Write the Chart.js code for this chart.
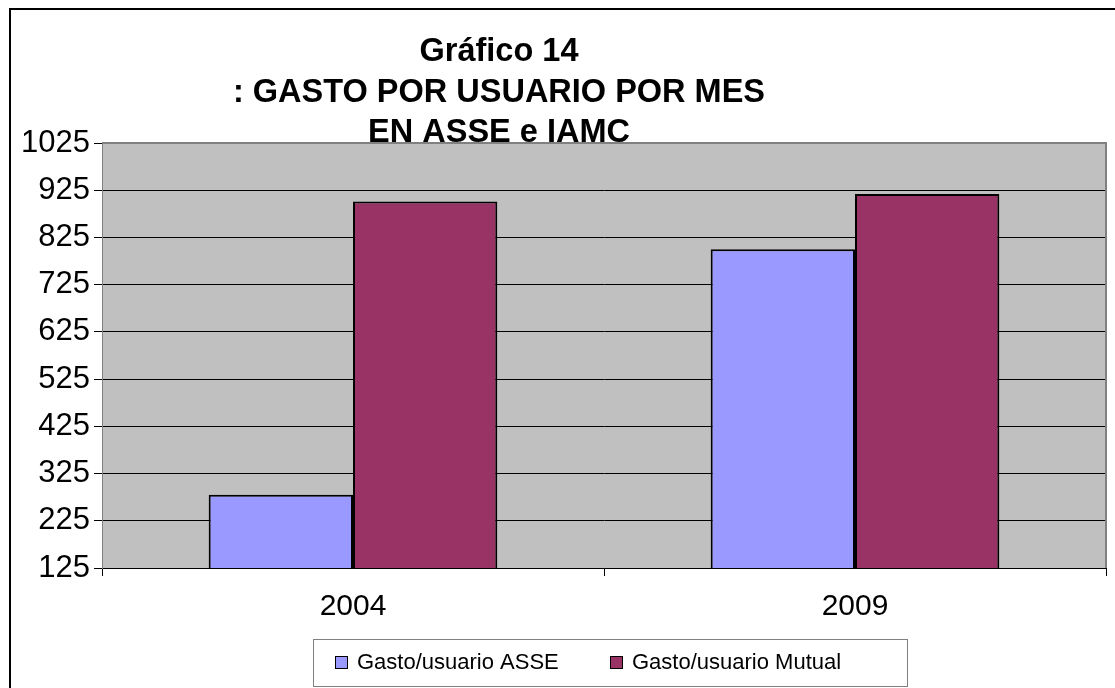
<!DOCTYPE html>
<html><head><meta charset="utf-8">
<script src="https://cdn.jsdelivr.net/npm/chart.js@4"></script>
<style>html,body{margin:0;padding:0;background:#fff}#wrap{width:1115px;height:688px;position:relative}</style>
</head><body><div id="wrap"><canvas id="c" width="1115" height="688"></canvas></div>
<script>
const categories = ['2004', '2009'];
const asseValues = [280, 800];
const mutualValues = [901, 917];
const seriesLabels = ['Gasto/usuario ASSE', 'Gasto/usuario Mutual'];
const seriesColors = ['#9999FF', '#993366'];
const yMin = 125, yMax = 1025, yStep = 100;
const titleLines = ['Gráfico 14', ': GASTO POR USUARIO POR MES', 'EN ASSE e IAMC'];

const FONT = 'Arial, "Liberation Sans", sans-serif';

const decor = {
  id: 'decor',
  beforeDraw(chart) {
    const {ctx, chartArea: a} = chart;
    ctx.save();
    ctx.fillStyle = '#fff';
    ctx.fillRect(0, 0, chart.width, chart.height);
    ctx.fillStyle = '#C0C0C0';
    ctx.fillRect(a.left, a.top, a.right - a.left, a.bottom - a.top);
    ctx.strokeStyle = '#000';
    ctx.lineWidth = 2;
    ctx.beginPath();
    ctx.moveTo(10, chart.height + 5);
    ctx.lineTo(10, 9);
    ctx.lineTo(chart.width + 5, 9);
    ctx.stroke();
    ctx.restore();
  },
  afterDraw(chart) {
    const {ctx, chartArea: a} = chart;
    ctx.save();
    ctx.strokeStyle = '#808080';
    ctx.lineWidth = 2;
    ctx.beginPath();
    ctx.moveTo(a.left, a.top);
    ctx.lineTo(a.right, a.top);
    ctx.lineTo(a.right, a.bottom);
    ctx.stroke();
    ctx.fillStyle = '#000';
    ctx.font = 'bold 32.5px ' + FONT;
    ctx.textAlign = 'center';
    ctx.textBaseline = 'middle';
    const ys = [52, 93, 133];
    titleLines.forEach((t, i) => ctx.fillText(t, 499, ys[i]));
    ctx.strokeStyle = '#808080';
    ctx.lineWidth = 1;
    ctx.strokeRect(313.5, 639.5, 594, 47);
    ctx.font = '22px ' + FONT;
    ctx.textAlign = 'left';
    const xs = [335, 610];
    chart.data.datasets.forEach((ds, i) => {
      ctx.fillStyle = ds.backgroundColor;
      ctx.fillRect(xs[i], 656, 13, 13);
      ctx.strokeStyle = '#000';
      ctx.strokeRect(xs[i] + 0.5, 656.5, 12, 12);
      ctx.fillStyle = '#000';
      ctx.fillText(ds.label, xs[i] + 22, 663);
    });
    ctx.restore();
  }
};

new Chart(document.getElementById('c'), {
  type: 'bar',
  data: {
    labels: categories,
    datasets: [
      {label: seriesLabels[0], data: asseValues, backgroundColor: seriesColors[0], borderColor: '#000', borderWidth: 2},
      {label: seriesLabels[1], data: mutualValues, backgroundColor: seriesColors[1], borderColor: '#000', borderWidth: 2}
    ]
  },
  options: {
    responsive: false,
    animation: false,
    devicePixelRatio: 1,
    categoryPercentage: 0.575,
    barPercentage: 1.0,
    layout: {padding: {left: 0, right: 9, top: 143, bottom: 60}},
    plugins: {legend: {display: false}, title: {display: false}, tooltip: {enabled: false}},
    scales: {
      x: {
        afterFit(s) { s.height = 60; },
        grid: {offset: true, drawOnChartArea: false, color: '#000', tickLength: 8},
        border: {color: '#000', width: 1},
        ticks: {color: '#000', font: {family: FONT, size: 30}, padding: 13}
      },
      y: {
        min: yMin, max: yMax,
        afterFit(s) { s.width = 102; },
        afterBuildTicks(s) {
          const t = [];
          for (let v = yMin; v <= yMax; v += yStep) t.push({value: v});
          s.ticks = t;
        },
        grid: {color: '#000', lineWidth: 1, tickLength: 8},
        border: {color: '#808080', width: 1},
        ticks: {color: '#000', font: {family: FONT, size: 31}, padding: 4, callback: v => String(v)}
      }
    }
  },
  plugins: [decor]
});
</script>
</body></html>
